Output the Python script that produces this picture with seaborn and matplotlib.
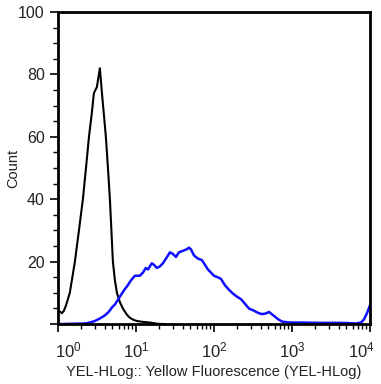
import numpy as np
import pandas as pd
import matplotlib
matplotlib.use("Agg")
import matplotlib.pyplot as plt
import matplotlib.ticker as mticker
import matplotlib.transforms as mtransforms
import seaborn as sns

# Unstained control (black) - fluorescence vs count
black_fl = [1.0, 1.06, 1.125, 1.19, 1.27, 1.42, 1.65, 1.86, 2.09, 2.29, 2.50, 2.73,
            2.89, 3.16, 3.45, 3.67, 3.89, 4.12, 4.38, 4.64, 4.85, 5.07, 5.38, 5.71,
            6.24, 6.81, 7.67, 8.38, 9.43, 10.3, 12.3, 15.1, 19.1, 23.6]
black_count = [4.5, 4.0, 3.5, 4.2, 6.0, 10.0, 20.0, 30.0, 40.0, 50.0, 60.0, 68.0,
               74.0, 76.0, 82.0, 74.0, 67.0, 60.0, 50.0, 40.0, 30.0, 20.0, 14.0, 10.0,
               7.0, 5.0, 3.0, 2.0, 1.3, 1.0, 0.7, 0.5, 0.1, 0.0]

# Stained sample (blue)
blue_fl = [1.0, 2.22, 2.57, 2.98, 3.45, 4.01, 4.51, 4.92, 5.38, 5.88, 6.42, 7.02,
           7.89, 8.63, 9.71, 11.2, 12.3, 13.4, 14.3, 15.1, 16.0, 17.0, 18.6, 20.3,
           22.2, 24.3, 27.3, 29.8, 32.6, 35.6, 40.1, 45.1, 47.8, 50.7, 55.5, 62.4,
           70.2, 76.7, 83.8, 91.6, 100, 112, 123, 138, 156, 175, 197, 222, 250, 281,
           326, 367, 412, 464, 507, 570, 662, 745, 942, 1268, 2285, 4121, 5546, 6622,
           7674, 8380, 9161, 10000]
blue_count = [0.0, 0.2, 0.5, 1.0, 1.8, 2.8, 4.0, 5.3, 6.3, 7.8, 9.3, 10.8,
              12.5, 14.0, 15.5, 15.5, 16.5, 18.0, 17.5, 18.5, 19.5, 19.0, 18.0, 18.5,
              19.5, 21.0, 23.0, 22.5, 21.5, 23.0, 23.5, 24.0, 24.5, 24.0, 22.0, 21.0,
              20.5, 19.0, 17.5, 16.5, 15.5, 15.0, 14.5, 12.5, 11.0, 9.8, 8.8, 8.0, 6.5, 5.0,
              4.3, 3.6, 3.2, 3.4, 3.9, 2.9, 1.6, 0.8, 0.5, 0.5, 0.4, 0.4, 0.3, 0.2,
              0.5, 1.5, 3.5, 6.0]

x_ticks = [1, 10, 100, 1000, 10000]
x_ticklabels = ["$10^0$", "$10^1$", "$10^2$", "$10^3$", "$10^4$"]
y_ticks = [0, 20, 40, 60, 80, 100]
y_ticklabels = ["", "20", "40", "60", "80", "100"]

sns.set_style("ticks")
plt.rcParams["font.family"] = ["Liberation Sans", "DejaVu Sans"]
plt.rcParams["mathtext.default"] = "regular"

df = pd.concat([
    pd.DataFrame({"fl": black_fl, "count": black_count, "sample": "control"}),
    pd.DataFrame({"fl": blue_fl, "count": blue_count, "sample": "stained"}),
])

fig = plt.figure(figsize=(3.81, 3.84), dpi=100)
ax = fig.add_axes([0.152, 0.156, 0.819, 0.8125])

sns.lineplot(data=df, x="fl", y="count", hue="sample",
             palette={"control": "black", "stained": "#1010ff"},
             sort=False, estimator=None, legend=False, ax=ax)
for line, lw in zip(ax.lines, [1.5, 1.8]):
    line.set_linewidth(lw)

ax.set_xscale("log")
ax.set_xlim(1, 10000)
ax.set_ylim(0, 100)

ax.set_xticks(x_ticks)
ax.set_xticklabels(x_ticklabels)
ax.xaxis.set_minor_locator(mticker.LogLocator(base=10, subs=np.arange(2, 10), numticks=10))
ax.xaxis.set_minor_formatter(mticker.NullFormatter())

ax.set_yticks(y_ticks)
ax.set_yticklabels(y_ticklabels)
ax.yaxis.set_minor_locator(mticker.MultipleLocator(5))

for side in ["left", "right", "top", "bottom"]:
    ax.spines[side].set_visible(True)
    ax.spines[side].set_linewidth(2)
    ax.spines[side].set_color("black")

ax.tick_params(axis="both", which="major", length=6, width=1.2, colors="black",
               labelcolor="#222222", labelsize=11.5)
ax.tick_params(axis="both", which="minor", length=3.5, width=1.0, colors="black")
ax.tick_params(axis="x", which="major", pad=6, labelsize=12)

# keep the first and last decade labels inside the figure, like the cytometer export
xl = ax.get_xticklabels()
xl[0].set_horizontalalignment("left")
xl[0].set_transform(xl[0].get_transform() + mtransforms.ScaledTranslation(-3 / 100, 0, fig.dpi_scale_trans))
xl[-1].set_horizontalalignment("right")
xl[-1].set_transform(xl[-1].get_transform() + mtransforms.ScaledTranslation(5 / 100, 0, fig.dpi_scale_trans))

ax.set_xlabel("YEL-HLog:: Yellow Fluorescence (YEL-HLog)", fontsize=10.5, color="#222222", labelpad=3)
ax.set_ylabel("Count", fontsize=10.5, color="#222222")
ax.yaxis.set_label_coords(-0.122, 0.5)

fig.savefig("out.png", dpi=100)
